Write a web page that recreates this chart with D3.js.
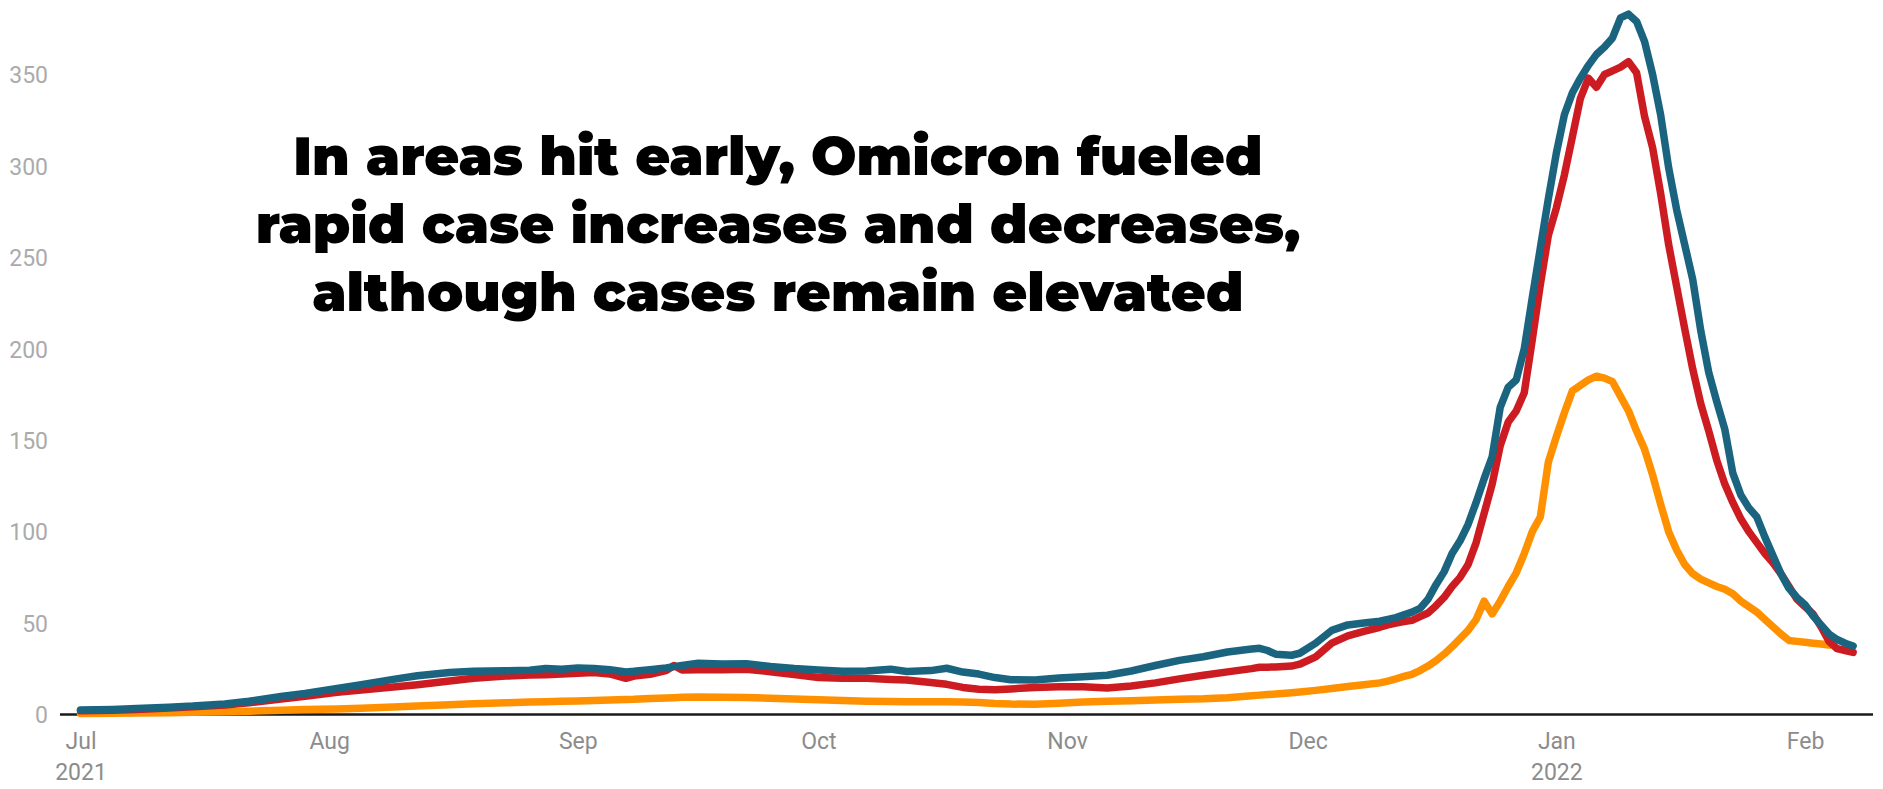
<!DOCTYPE html>
<html>
<head>
<meta charset="utf-8">
<script src="https://cdn.jsdelivr.net/npm/d3@7"></script>
<style>
  html, body { margin: 0; padding: 0; background: #ffffff; }
  svg { display: block; }
</style>
</head>
<body>
<svg id="chart" width="1883" height="789"></svg>
<script>
// ---------------- DATA ----------------
const dates = [
  "2021-07-01","2021-07-05","2021-07-08","2021-07-12","2021-07-15","2021-07-19","2021-07-22","2021-07-26","2021-07-29",
  "2021-08-02","2021-08-05","2021-08-09","2021-08-12","2021-08-16","2021-08-19","2021-08-23","2021-08-26","2021-08-28","2021-08-30",
  "2021-09-01","2021-09-03","2021-09-05","2021-09-07","2021-09-08","2021-09-10","2021-09-12","2021-09-13","2021-09-14","2021-09-16",
  "2021-09-19","2021-09-22","2021-09-25","2021-09-28",
  "2021-10-01","2021-10-04","2021-10-07","2021-10-10","2021-10-12","2021-10-15","2021-10-17","2021-10-19","2021-10-21","2021-10-23",
  "2021-10-25","2021-10-28","2021-10-31",
  "2021-11-03","2021-11-06","2021-11-09","2021-11-12","2021-11-15","2021-11-18","2021-11-21","2021-11-24","2021-11-25","2021-11-26",
  "2021-11-27","2021-11-29","2021-11-30",
  "2021-12-02","2021-12-04","2021-12-06","2021-12-08","2021-12-10",
  "2021-12-11","2021-12-12","2021-12-13","2021-12-14","2021-12-15","2021-12-16","2021-12-17","2021-12-18","2021-12-19","2021-12-20",
  "2021-12-21","2021-12-22","2021-12-23","2021-12-24","2021-12-25","2021-12-26","2021-12-27","2021-12-28","2021-12-29","2021-12-30","2021-12-31",
  "2022-01-01","2022-01-02","2022-01-03","2022-01-04","2022-01-05","2022-01-06","2022-01-07","2022-01-08","2022-01-09","2022-01-10",
  "2022-01-11","2022-01-12","2022-01-13","2022-01-14","2022-01-15","2022-01-16","2022-01-17","2022-01-18","2022-01-19","2022-01-20",
  "2022-01-21","2022-01-22","2022-01-23","2022-01-24","2022-01-25","2022-01-26","2022-01-27","2022-01-28","2022-01-29","2022-01-30","2022-01-31",
  "2022-02-01","2022-02-02","2022-02-03","2022-02-04","2022-02-05","2022-02-06","2022-02-07"
];

const blueSeries = [
  2.5,2.8,3.3,4.0,4.6,5.8,7.2,9.8,11.5,
  14.3,16.3,19.2,21.2,23.0,23.6,23.9,24.2,25.1,24.7,
  25.4,25.2,24.5,23.3,23.6,24.5,25.5,26.2,26.8,28.0,
  27.6,27.8,26.3,25.2,
  24.4,23.6,23.8,24.8,23.5,24.0,25.3,23.2,22.1,20.2,
  19.0,18.9,20.0,
  20.7,21.5,23.8,26.8,29.6,31.6,34.2,35.8,36.2,35.0,
  33.0,32.4,33.5,
  39.0,46.0,49.0,50.0,51.0,
  52,53,54.5,56,58,63,71,78,88,95,
  104,116,129,141,168,179,183,200,228,255,282,
  307,328,340,348,355,361,365,370,381,383,
  379,368,350,328,299,276,257,238,210,187,
  171,156,132,120,113,108,97,87,77,69,64,
  60,54,49,44,41,39,37.5
];

const redSeries = [
  2.0,2.3,2.8,3.5,4.2,5.2,6.4,8.4,10.0,
  12.2,13.4,15.0,16.3,18.3,19.8,21.0,21.6,21.8,22.1,
  22.6,23.0,22.2,19.8,21.0,22.0,24.0,26.8,24.3,24.5,
  24.5,24.8,23.4,21.8,
  20.2,19.8,19.8,19.2,18.9,17.5,16.5,14.8,13.8,13.6,
  14.0,14.8,15.2,
  15.2,14.5,15.6,17.3,19.5,21.5,23.3,25.1,25.8,25.9,
  26.0,26.5,27.5,
  31.5,39.0,43.0,45.5,47.7,
  49,50,50.8,51.5,53.5,55.5,59.5,64,70,75,
  82,94,110,126,147,160,166,176,205,235,262,
  277,295,316,337,348,343,350,352,354,357,
  351,327,310,285,257,234,211,189,170,155,
  139,126,116,107,100,94,88,83,77,70,63,
  59,55,48,40,36,35,34
];

const orangeSeries = [
  0.6,0.7,0.8,1.0,1.2,1.5,1.8,2.3,2.7,
  3.0,3.4,4.1,4.6,5.3,5.9,6.4,6.8,7.0,7.2,
  7.4,7.6,7.9,8.2,8.3,8.7,9.0,9.2,9.4,9.6,
  9.5,9.3,8.9,8.5,
  8.0,7.6,7.3,7.1,7.0,7.0,7.0,6.9,6.6,6.0,
  5.7,5.6,6.2,
  6.9,7.2,7.5,7.9,8.3,8.6,9.2,10.2,10.6,10.9,
  11.2,11.9,12.3,
  13.2,14.2,15.3,16.3,17.3,
  18.3,19.5,20.8,22,24,26.5,29.5,33,37,41.5,
  46,52,62,55,62,70,77.5,88,100,108,138,
  152,165,177,180,183,185,184,182,174,166,
  155,145,131,115,100,90,82,77,74,72,
  70,68.5,66,62,59,56,52,48,44,40.5,40,
  39.5,39,38.5,38,null,null,null
];

const yTicks = [0, 50, 100, 150, 200, 250, 300, 350];
const xTickDates = ["2021-07-01","2021-08-01","2021-09-01","2021-10-01","2021-11-01","2021-12-01","2022-01-01","2022-02-01"];
const xTickMonths = ["Jul","Aug","Sep","Oct","Nov","Dec","Jan","Feb"];
const xTickYears = ["2021","","","","","","2022",""];
const titleLines = [
  "In areas hit early, Omicron fueled",
  "rapid case increases and decreases,",
  "although cases remain elevated"
];

// ---------------- CHART ----------------
const parse = d3.utcParse("%Y-%m-%d");
const svg = d3.select("#chart");

const x = d3.scaleUtc()
  .domain([parse("2021-07-01"), parse("2022-02-01")])
  .range([80.5, 1805]);
const y = d3.scaleLinear().domain([0, 350]).range([714.5, 74.5]);

// y axis labels
const yAxis = d3.axisLeft(y).tickValues(yTicks).tickSize(0).tickPadding(0);
const gy = svg.append("g").attr("transform", "translate(48,0)").call(yAxis);
gy.select(".domain").remove();
gy.selectAll("text")
  .attr("font-family", "Roboto, 'Noto Sans', sans-serif")
  .attr("font-size", 23)
  .attr("fill", "#ababab")
  .attr("dy", "0.36em");

// x axis labels
const xAxis = d3.axisBottom(x)
  .tickValues(xTickDates.map(parse))
  .tickSize(0).tickPadding(0)
  .tickFormat((d, i) => xTickMonths[i]);
const gx = svg.append("g").attr("transform", "translate(0,749)").call(xAxis);
gx.select(".domain").remove();
gx.selectAll("text")
  .attr("font-family", "Roboto, 'Noto Sans', sans-serif")
  .attr("font-size", 23)
  .attr("fill", "#8c8c8c")
  .attr("y", 0)
  .attr("dy", 0);
gx.selectAll(".tick").append("text")
  .attr("font-family", "Roboto, 'Noto Sans', sans-serif")
  .attr("font-size", 23)
  .attr("fill", "#8c8c8c")
  .attr("text-anchor", "middle")
  .attr("y", 31)
  .text((d, i) => xTickYears[i]);

// baseline
svg.append("line")
  .attr("x1", 60).attr("x2", 1873)
  .attr("y1", y(0)).attr("y2", y(0))
  .attr("stroke", "#1a1a1a").attr("stroke-width", 2.4);

// lines
const series = [
  { values: orangeSeries, color: "#ff9100" },
  { values: redSeries, color: "#cc1c22" },
  { values: blueSeries, color: "#1b6480" }
];
const line = d3.line()
  .defined(d => d.v !== null)
  .x(d => x(d.date))
  .y(d => y(d.v));

series.forEach(s => {
  const pts = dates.map((d, i) => ({ date: parse(d), v: s.values[i] }));
  svg.append("path")
    .datum(pts)
    .attr("d", line)
    .attr("fill", "none")
    .attr("stroke", s.color)
    .attr("stroke-width", 7.5)
    .attr("stroke-linejoin", "round")
    .attr("stroke-linecap", "round");
});

// title
const title = svg.append("text")
  .attr("font-family", "Montserrat, Lato, 'Open Sans', sans-serif")
  .attr("font-weight", 900)
  .attr("font-size", 56)
  .attr("fill", "#000")
  .attr("text-anchor", "middle");
const baselines = [175, 243, 311];
titleLines.forEach((t, i) => {
  title.append("tspan").attr("x", 778).attr("y", baselines[i]).text(t);
});
// fit title width to the reference (second line about 1045px wide)
const probe = title.selectAll("tspan").nodes()[1];
const w = probe.getComputedTextLength();
if (w > 0) {
  const fs = Math.max(40, Math.min(64, 56 * 1045 / w));
  title.attr("font-size", fs);
}
</script>
</body>
</html>
